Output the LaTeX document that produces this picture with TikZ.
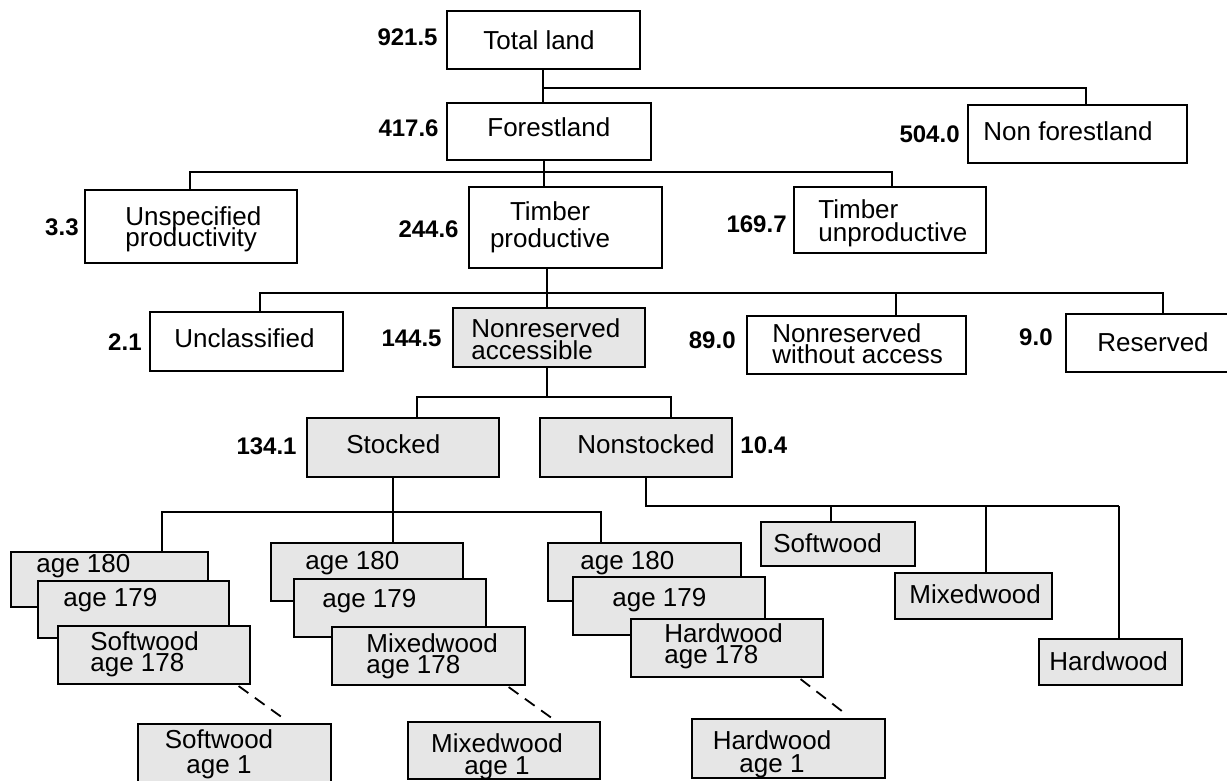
\documentclass[tikz,border=0pt]{standalone}
\usepackage{fontspec}
\setmainfont{Liberation Sans}
\usetikzlibrary{fit}
\tikzset{>=stealth}
\definecolor{boxgray}{RGB}{230,230,230}
\tikzset{
  box/.style={draw=black, line width=0.9pt, fill=white, inner sep=0pt},
  greybox/.style={box, fill=boxgray},
  txt/.style={font={\fontsize{13}{10.5}\selectfont\lineskiplimit=-20pt}, inner sep=0pt, align=left, anchor=north west},
  ctxt/.style={txt, align=center, anchor=north},
  num/.style={font={\fontsize{12}{12}\selectfont\bfseries}, inner sep=0pt, anchor=base east},
  link/.style={line width=0.9pt},
  gapline/.style={line width=0.9pt, dash pattern=on 6pt off 4pt, shorten <=1pt, shorten >=3pt}
}

\begin{document}
\begin{tikzpicture}[x=0.5pt, y=-0.5pt]
\useasboundingbox (0,0) rectangle (1227,781);
\clip (0,0) rectangle (1227,781);

% boxes of the top part
\node[box, fit={(447,11) (640,69)}] (tland) {};
\node[box, fit={(447,103) (651,160)}] (fland) {};
\node[box, fit={(968,105) (1187,163)}] (nfor) {};
\node[box, fit={(85,190) (297,263)}] (unspec) {};
\node[box, fit={(469,187) (662,268)}] (tprod) {};
\node[box, fit={(794,187) (986,253)}] (tunprod) {};
\node[box, fit={(150,312) (343,371)}] (uncl) {};
\node[greybox, fit={(453,308) (645,367)}] (nracc) {};
\node[box, fit={(747,316) (966,374)}] (nrwoa) {};
\node[box, fit={(1066,314) (1260,372)}] (resv) {};
\node[greybox, fit={(307,418) (499,477)}] (stock) {};
\node[greybox, fit={(540,418) (732,477)}] (nonst) {};

% bus lines
\coordinate (j1) at (543,88);
\draw[link] (j1 |- tland.south) -- (j1 |- fland.north);
\draw[link] (j1) -| (1086,0 |- nfor.north);
\coordinate (j2) at (544,172);
\draw[link] (j2 |- fland.south) -- (j2 |- tprod.north);
\draw[link] (190,0 |- unspec.north) |- (j2) -| (892,0 |- tunprod.north);
\coordinate (j3) at (547,293);
\draw[link] (j3 |- tprod.south) -- (j3 |- nracc.north);
\draw[link] (260,0 |- uncl.north) |- (j3) -| (896,0 |- nrwoa.north);
\draw[link] (j3) -| (1163,0 |- resv.north);
\coordinate (j4) at (547,397);
\draw[link] (j4 |- nracc.south) -- (j4);
\draw[link] (417,0 |- stock.north) |- (j4) -| (671,0 |- nonst.north);

% texts of the top part
\node[txt] (tlandtxt) at (483,30.4) {Total land};
\node[num] (tlandnum) at (438,46) {921.5};
\node[txt] (flandtxt) at (487,117.4) {Forestland};
\node[num] (flandnum) at (439,137) {417.6};
\node[txt] (nfortxt) at (983,121.4) {Non forestland};
\node[num] (nfornum) at (960,142) {504.0};
\node[txt] (unspectxt) at (125,206.4) {Unspecified\\productivity};
\node[num] (unspecnum) at (79,235) {3.3};
\node[ctxt] (tprodtxt) at (550,201.4) {Timber\\[2.8pt]productive};
\node[num] (tprodnum) at (459,237) {244.6};
\node[txt] (tunprodtxt) at (818,199.7) {Timber\\[0.8pt]unproductive};
\node[num] (tunprodnum) at (787,233) {169.7};
\node[txt] (uncltxt) at (174,328) {Unclassified};
\node[num] (unclnum) at (142,350) {2.1};
\node[txt] (nracctxt) at (471,318) {Nonreserved\\[0.8pt]accessible};
\node[num] (nraccnum) at (442,346) {144.5};
\node[txt] (nrwoatxt) at (772,323) {Nonreserved\\without access};
\node[num] (nrwoanum) at (736,348) {89.0};
\node[txt] (resvtxt) at (1097,332.4) {Reserved};
\node[num] (resvnum) at (1053,345) {9.0};
\node[txt] (stocktxt) at (346,434) {Stocked};
\node[num] (stocknum) at (297,454) {134.1};
\node[txt] (nonsttxt) at (577,434) {Nonstocked};
\node[num, anchor=base west] (nonstnum) at (740,453) {10.4};

% stocked: age classes
\coordinate (j5) at (393,512);
\draw[link] (j5 |- stock.south) -- (j5) -- (393,543);
\draw[link] (162,552) |- (j5) -| (601,543);

\node[greybox, fit={(11,552) (208,607)}] (s180) {};
\node[txt] (s180txt) at (36,554) {age 180};
\node[greybox, fit={(38,581) (229,638)}] (s179) {};
\node[txt] (s179txt) at (63,588) {age 179};
\node[greybox, fit={(58,626) (250,684)}] (s178) {};
\node[txt] (s178txt) at (90,631) {Softwood\\age 178};
\node[greybox, fit={(138,724) (331,800)}] (s1) {};
\node[ctxt] (s1txt) at (219,729) {Softwood\\[2pt]age 1};

\node[greybox, fit={(271,543) (463,601)}] (m180) {};
\node[txt] (m180txt) at (305,551) {age 180};
\node[greybox, fit={(294,579) (486,637)}] (m179) {};
\node[txt] (m179txt) at (322,589) {age 179};
\node[greybox, fit={(332,627) (525,685)}] (m178) {};
\node[txt] (m178txt) at (366,633) {Mixedwood\\age 178};
\node[greybox, fit={(408,722) (600,779)}] (m1) {};
\node[ctxt] (m1txt) at (497,733) {Mixedwood\\[0.4pt]age 1};

\node[greybox, fit={(548,543) (741,601)}] (h180) {};
\node[txt] (h180txt) at (580,551) {age 180};
\node[greybox, fit={(573,577) (765,635)}] (h179) {};
\node[txt] (h179txt) at (612,588) {age 179};
\node[greybox, fit={(631,619) (823,677)}] (h178) {};
\node[txt] (h178txt) at (664,623) {Hardwood\\age 178};
\node[greybox, fit={(692,719) (885,778)}] (h1) {};
\node[ctxt] (h1txt) at (772,730) {Hardwood\\[1.2pt]age 1};

\draw[gapline] (237,0 |- s178.south) -- (290,0 |- s1.north);
\draw[gapline] (507,0 |- m178.south) -- (556,0 |- m1.north);
\draw[gapline] (799,0 |- h178.south) -- (851,0 |- h1.north);

% nonstocked: cover types
\coordinate (j6) at (646,506);
\draw[link] (j6 |- nonst.south) -- (j6) -- (1119,506);
\node[greybox, fit={(761,522) (915,566)}] (nsw) {};
\node[greybox, fit={(895,573) (1052,619)}] (nmw) {};
\node[greybox, fit={(1039,639) (1182,685)}] (nhw) {};
\draw[link] (831,0 |- j6) -- (831,0 |- nsw.north);
\draw[link] (986,0 |- j6) -- (986,0 |- nmw.north);
\draw[link] (1119,0 |- j6) -- (1119,0 |- nhw.north);
\node[txt] (nswtxt) at (773,533) {Softwood};
\node[txt] (nmwtxt) at (909,584) {Mixedwood};
\node[txt] (nhwtxt) at (1049,651.4) {Hardwood};
\end{tikzpicture}
\end{document}
